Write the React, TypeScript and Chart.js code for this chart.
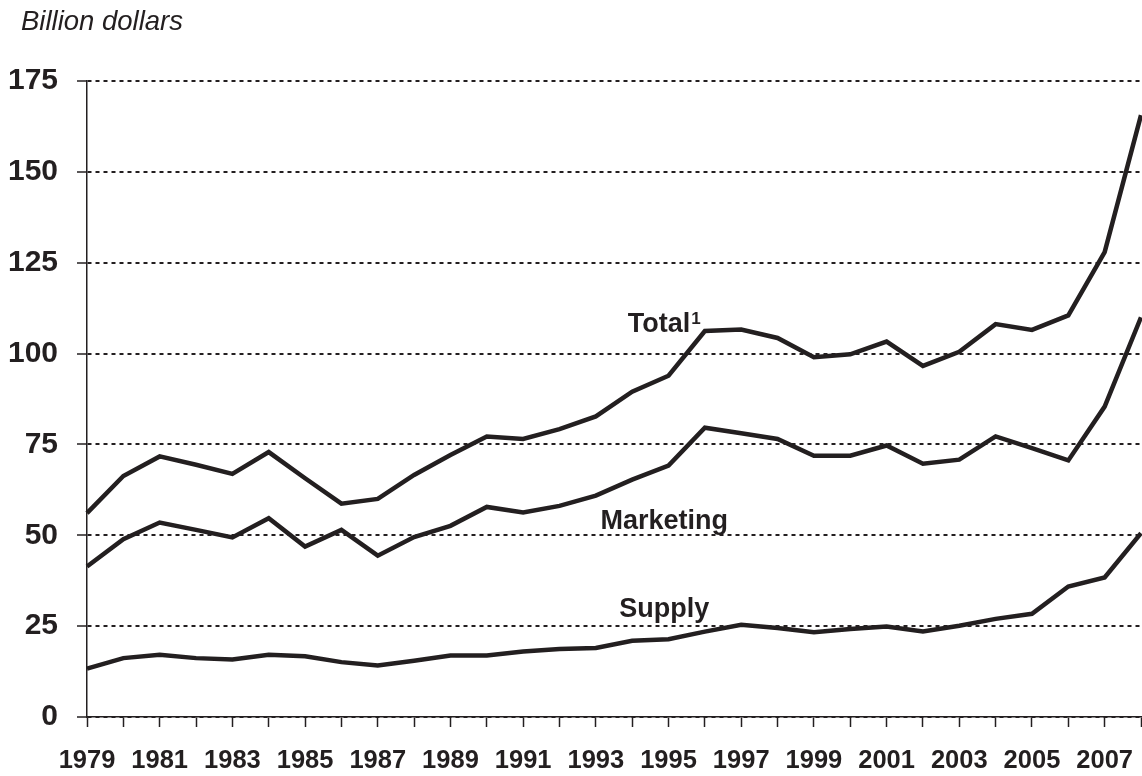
import React, { useEffect, useRef } from "react";
import { Chart, registerables } from "chart.js";

Chart.register(...registerables);

const years = [
  "1979", "1980", "1981", "1982", "1983", "1984", "1985", "1986", "1987", "1988",
  "1989", "1990", "1991", "1992", "1993", "1994", "1995", "1996", "1997", "1998",
  "1999", "2000", "2001", "2002", "2003", "2004", "2005", "2006", "2007", "2008",
];

const shownYearLabels = [
  "1979", "1981", "1983", "1985", "1987", "1989", "1991", "1993",
  "1995", "1997", "1999", "2001", "2003", "2005", "2007",
];

const total = [
  56.1, 66.3, 71.7, 69.4, 66.9, 72.9, 65.7, 58.7, 60.0, 66.6,
  72.1, 77.2, 76.5, 79.2, 82.7, 89.5, 93.9, 106.2, 106.6, 104.3,
  99.0, 99.8, 103.3, 96.6, 100.5, 108.1, 106.5, 110.5, 127.9, 165.6,
];

const marketing = [
  41.4, 48.9, 53.5, 51.5, 49.4, 54.7, 46.9, 51.5, 44.4, 49.5,
  52.6, 57.8, 56.3, 58.1, 60.9, 65.3, 69.2, 79.6, 78.1, 76.5,
  71.9, 71.9, 74.7, 69.7, 70.8, 77.2, 74.0, 70.6, 85.4, 110.0,
];

const supply = [
  13.3, 16.2, 17.1, 16.2, 15.8, 17.1, 16.7, 15.1, 14.2, 15.5,
  16.9, 16.9, 18.0, 18.7, 19.0, 21.0, 21.4, 23.5, 25.4, 24.5,
  23.3, 24.2, 24.9, 23.5, 25.1, 27.0, 28.4, 35.9, 38.4, 50.6,
];

const yMin = 0;
const yMax = 175;
const yStep = 25;

const unitLabel = "Billion dollars";

// series name annotations: text, superscript, x position (category index), y value (baseline)
const seriesLabelTexts = ["Total", "Marketing", "Supply"];
const seriesLabelSups = ["1", "", ""];
const seriesLabelX = [15.88, 15.88, 15.88];
const seriesLabelY = [106.0, 51.7, 27.6];

const INK = "#231f20";
const FAMILY = "'Liberation Sans', Arial, Helvetica, sans-serif";

const labelPlugin = {
  id: "seriesLabels",
  afterDatasetsDraw(chart: any) {
    const { ctx, scales } = chart;
    ctx.save();
    ctx.fillStyle = INK;
    ctx.textBaseline = "alphabetic";
    ctx.textAlign = "left";
    for (let i = 0; i < seriesLabelTexts.length; i++) {
      const cx = scales.x.getPixelForValue(seriesLabelX[i]);
      const by = scales.y.getPixelForValue(seriesLabelY[i]);
      ctx.font = `bold 27px ${FAMILY}`;
      const w1 = ctx.measureText(seriesLabelTexts[i]).width;
      let w2 = 0;
      if (seriesLabelSups[i]) {
        ctx.font = `bold 17px ${FAMILY}`;
        w2 = ctx.measureText(seriesLabelSups[i]).width + 1;
      }
      const left = cx - (w1 + w2) / 2;
      ctx.font = `bold 27px ${FAMILY}`;
      ctx.fillText(seriesLabelTexts[i], left, by);
      if (seriesLabelSups[i]) {
        ctx.font = `bold 17px ${FAMILY}`;
        ctx.fillText(seriesLabelSups[i], left + w1 + 1, by - 8);
      }
    }
    ctx.font = `italic 27.5px ${FAMILY}`;
    ctx.fillText(unitLabel, 21, 30);
    ctx.restore();
  },
};

export default function App() {
  const canvasRef = useRef<HTMLCanvasElement | null>(null);

  useEffect(() => {
    if (!canvasRef.current) return;
    const lineStyle = {
      borderColor: INK,
      backgroundColor: INK,
      borderWidth: 4.5,
      pointRadius: 0,
      tension: 0,
      fill: false,
      clip: false as any,
      borderJoinStyle: "miter" as const,
    };
    const chart = new Chart(canvasRef.current, {
      type: "line",
      data: {
        labels: years,
        datasets: [
          { label: "Total", data: total, ...lineStyle },
          { label: "Marketing", data: marketing, ...lineStyle },
          { label: "Supply", data: supply, ...lineStyle },
        ],
      },
      options: {
        animation: false,
        responsive: true,
        maintainAspectRatio: false,
        layout: { padding: { top: 81, right: 1, left: 0, bottom: 0 } },
        plugins: {
          legend: { display: false },
          tooltip: { enabled: false },
          title: { display: false },
        },
        scales: {
          x: {
            type: "category",
            offset: false,
            grid: {
              display: true,
              drawOnChartArea: false,
              drawTicks: true,
              tickLength: 10,
              tickWidth: 1.5,
              tickColor: INK,
              color: INK,
            },
            border: { display: true, color: INK, width: 1.5 },
            ticks: {
              autoSkip: false,
              maxRotation: 0,
              minRotation: 0,
              padding: 19,
              color: INK,
              font: { family: FAMILY, size: 25.5, weight: "bold" },
              callback: (_v: any, i: number) =>
                shownYearLabels.includes(years[i]) ? years[i] : "",
            },
            afterFit: (s: any) => {
              s.height = 59;
              s.paddingLeft = 0;
              s.paddingRight = 0;
            },
          },
          y: {
            min: yMin,
            max: yMax,
            ticks: {
              stepSize: yStep,
              padding: 19,
              color: INK,
              font: { family: FAMILY, size: 30, weight: "bold" },
            },
            grid: {
              color: INK,
              lineWidth: 2,
              drawTicks: true,
              tickLength: 10,
              tickWidth: 1.5,
              tickColor: INK,
            },
            border: { display: true, color: INK, width: 1.5, dash: [4, 4] },
            afterFit: (s: any) => {
              s.width = 87;
            },
          },
        },
      },
      plugins: [labelPlugin],
    });
    return () => chart.destroy();
  }, []);

  return (
    <div
      style={{
        position: "absolute",
        left: 0,
        top: 0,
        width: 1142,
        height: 776,
        background: "#ffffff",
      }}
    >
      <canvas ref={canvasRef} />
    </div>
  );
}
